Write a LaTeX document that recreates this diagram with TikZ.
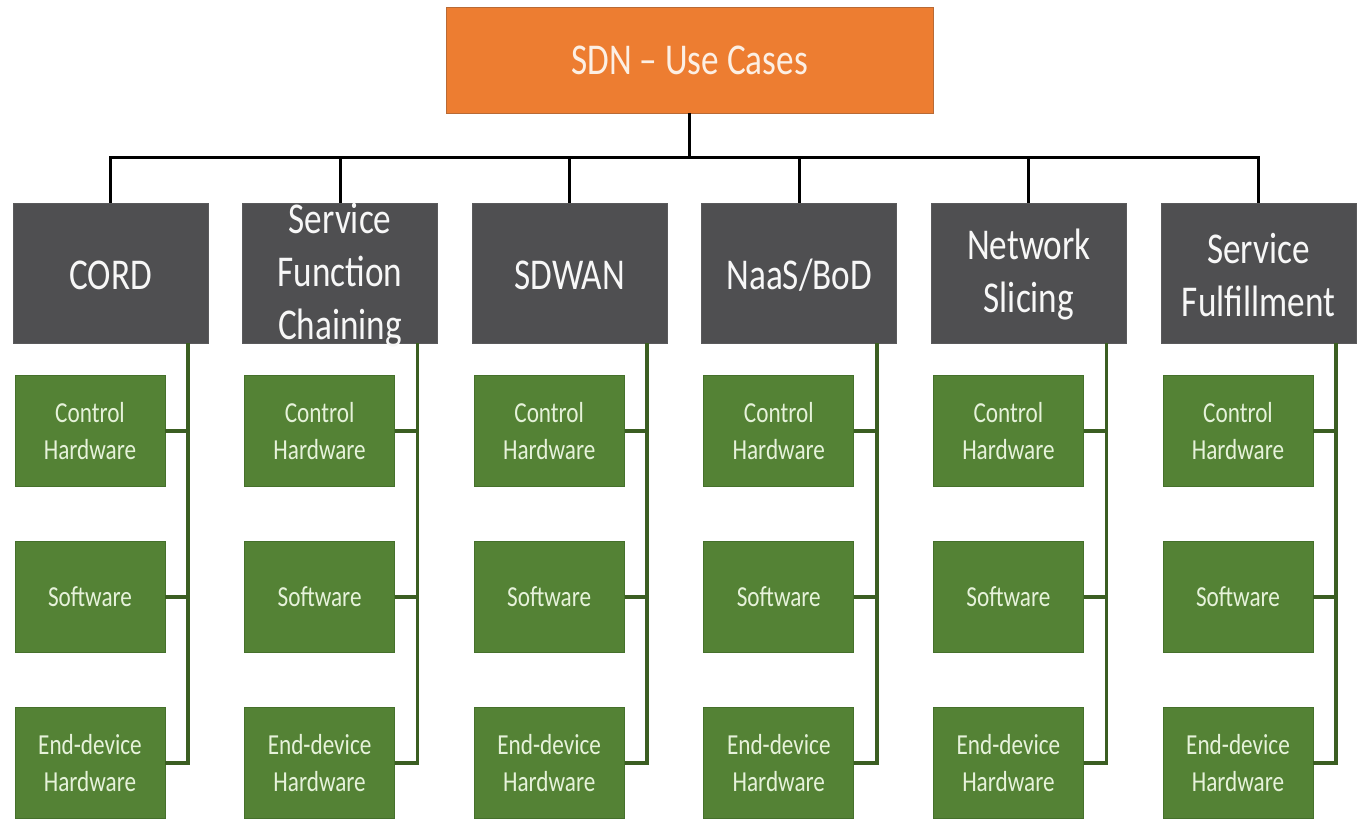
\documentclass[tikz,border=0pt]{standalone}
\usepackage{fontspec}
\setmainfont{Carlito}[FakeStretch=0.8]
\definecolor{orangeC}{HTML}{ED7D31}
\definecolor{orangeD}{HTML}{B86A35}
\definecolor{grayC}{HTML}{4F4F51}
\definecolor{grayD}{HTML}{5A5A5C}
\definecolor{greenC}{HTML}{548235}
\definecolor{greenD}{HTML}{45702B}
\definecolor{greenT}{HTML}{E6F2DA}
\definecolor{greenL}{HTML}{3B5E22}
\definecolor{titleT}{HTML}{FCEFE4}
\begin{document}
\begin{tikzpicture}[x=1pt,y=-1pt,
  topbox/.style={fill=orangeC, draw=orangeD, line width=0.8pt, minimum width=487pt, minimum height=106pt, inner sep=0pt, text=titleT, font=\fontsize{44}{53}\selectfont},
  casebox/.style={fill=grayC, draw=grayD, line width=0.8pt, minimum width=195pt, minimum height=140pt, inner sep=0pt},
  casetext/.style={inner sep=0pt, text=white!94!gray, align=center, font=\fontsize{44}{53}\selectfont},
  partbox/.style={fill=greenC, draw=greenD, line width=0.8pt, minimum width=150pt, minimum height=111pt, inner sep=0pt, text=greenT, align=center, font=\fontsize{29}{37}\selectfont},
  busline/.style={line width=3pt, draw=black},
  gline/.style={line width=3.5pt, draw=greenL},
]
\fill[white] (0,0) rectangle (1359,819);
\useasboundingbox (0,0) rectangle (1359,819);
\node[topbox] (top) at (689.5,60) {SDN – Use Cases};
\coordinate (bus) at (0,157);
\foreach \i/\t in {1/{CORD}, 2/{Service\\Function\\Chaining}, 3/{SDWAN}, 4/{NaaS/BoD}, 5/{Network\\Slicing}, 6/{Service\\Fulfillment}}{
  \pgfmathsetmacro{\gl}{13+229.6*(\i-1)}
  \node[casebox] (c\i) at (\gl+97.5,273) {};
  \node[casetext] (ct\i) at (\gl+97.5,275) {\t};
  \node[partbox] (p\i-1) at (\gl+77,431) {Control\\Hardware};
  \node[partbox] (p\i-2) at (\gl+77,597) {Software};
  \node[partbox] (p\i-3) at (\gl+77,763) {End-device\\Hardware};
  \coordinate (v\i) at (\gl+175,343);
  \draw[gline] (v\i) -- (v\i |- p\i-3.east) -- (p\i-3.east);
  \draw[gline] (p\i-1.east) -- (p\i-1.east -| v\i);
  \draw[gline] (p\i-2.east) -- (p\i-2.east -| v\i);
  \draw[busline] (c\i.north |- bus) -- (c\i.north);
}
\draw[busline] (top.south) -- (top.south |- bus);
\draw[busline, line cap=rect] (c1.north |- bus) -- (c6.north |- bus);
\end{tikzpicture}
\end{document}
